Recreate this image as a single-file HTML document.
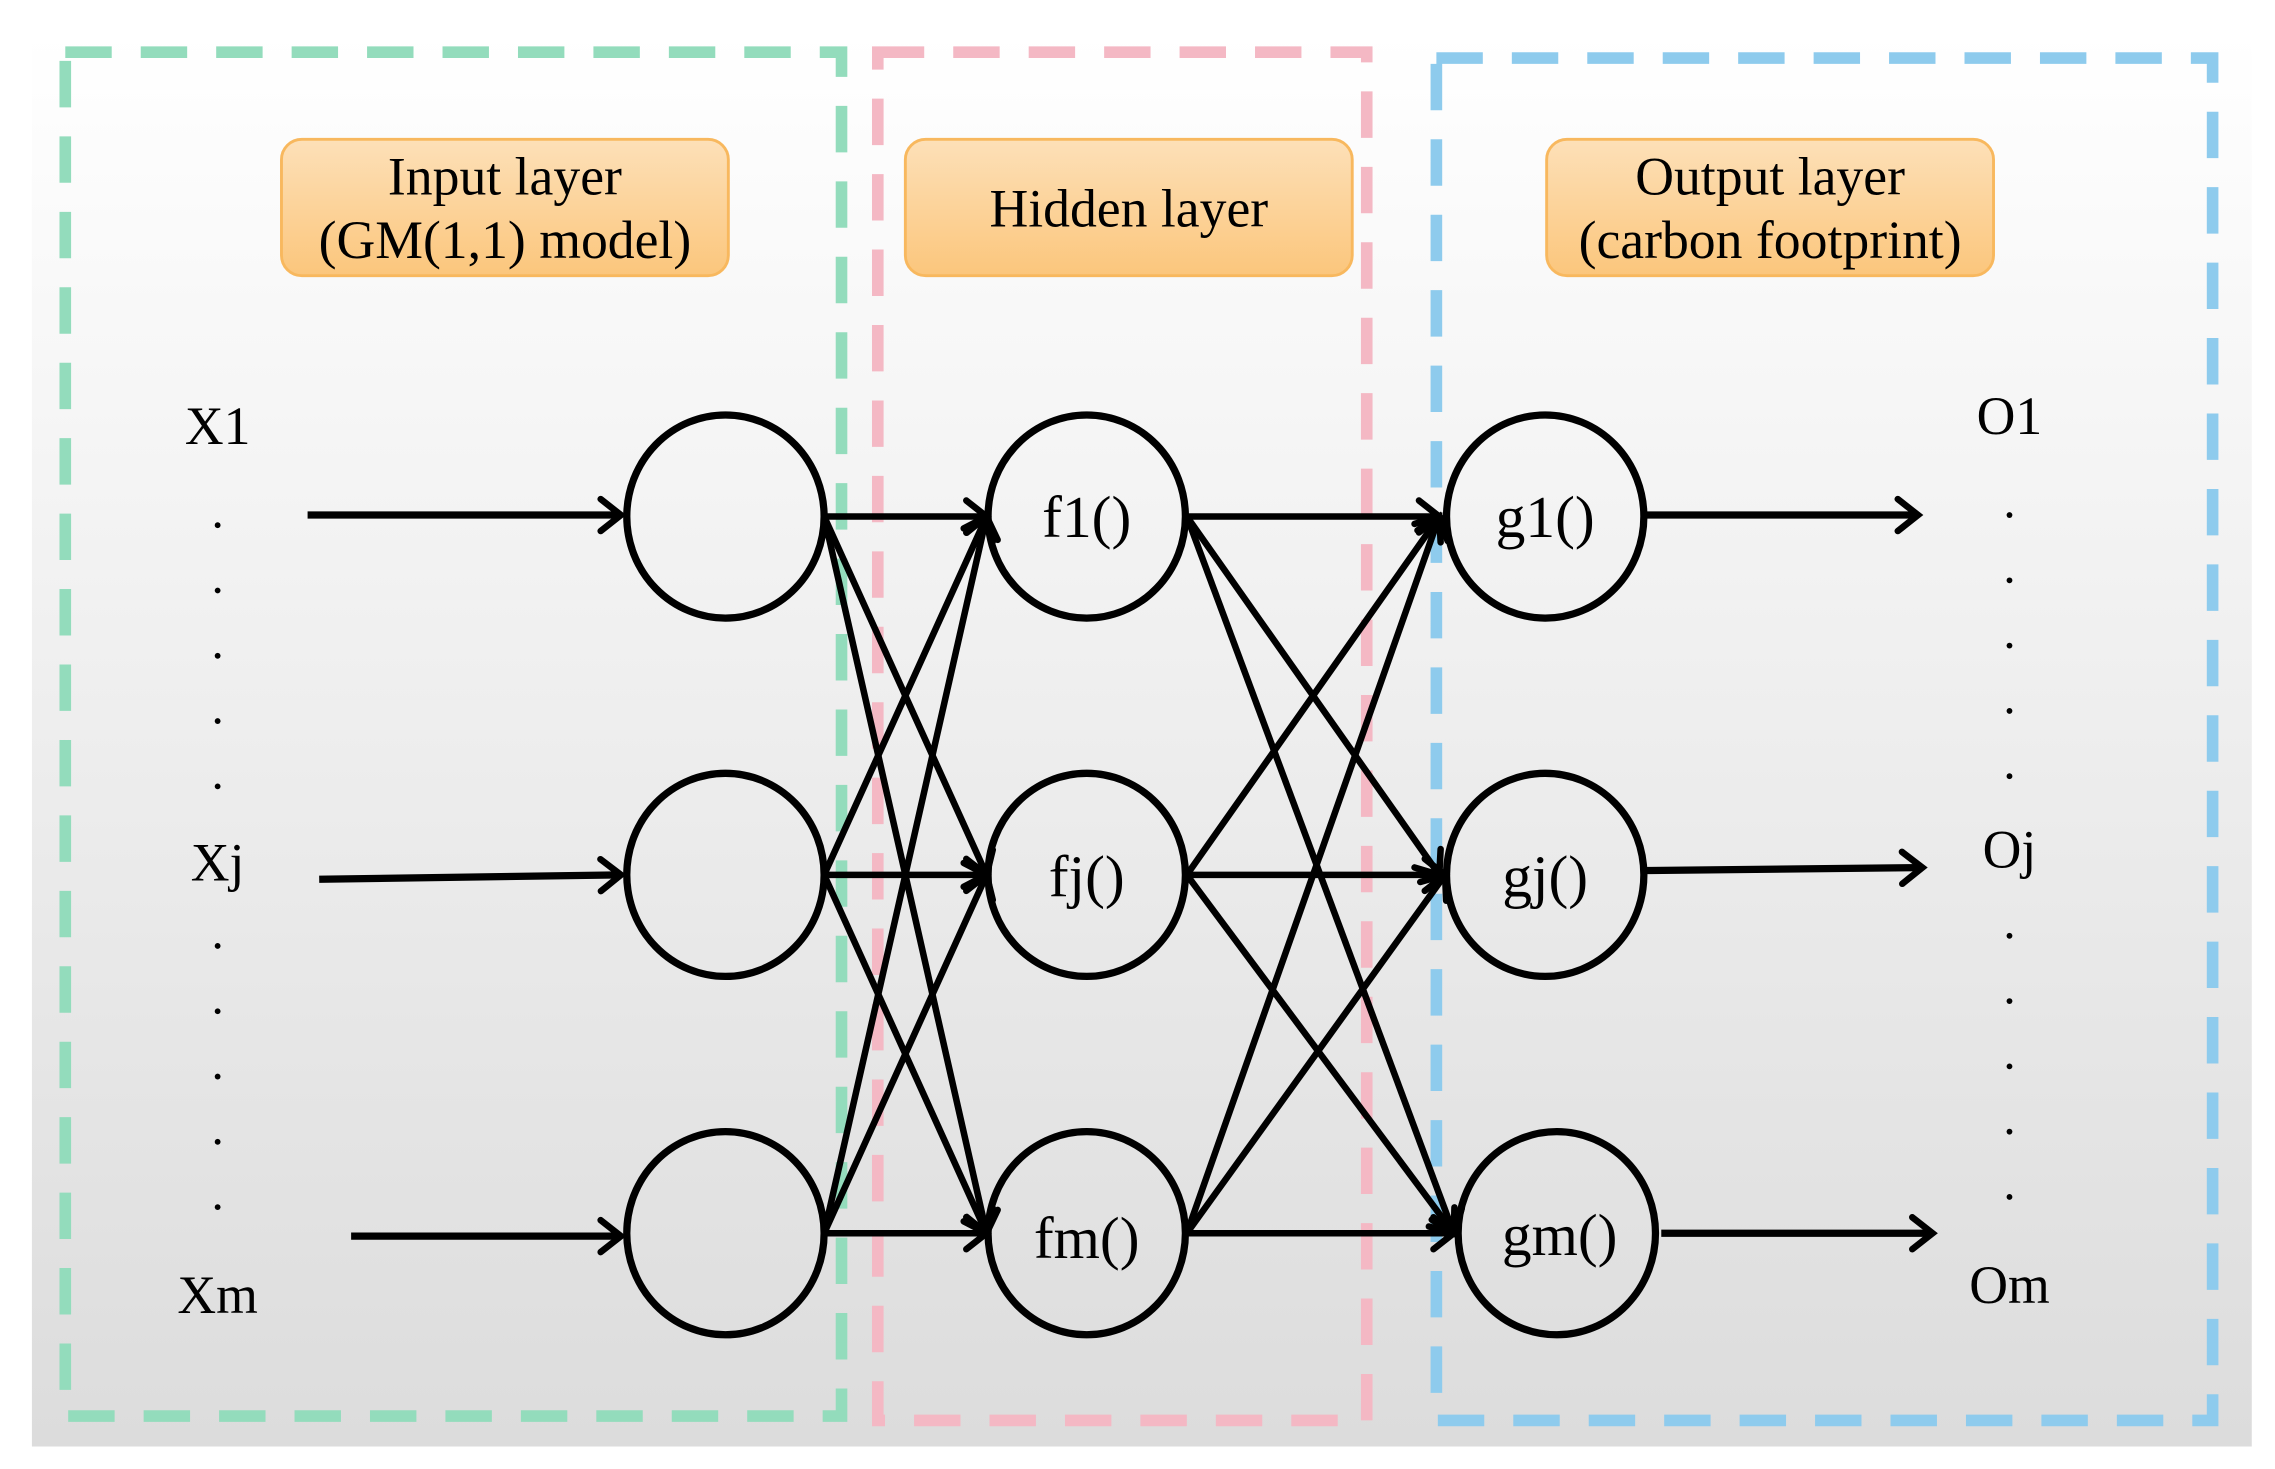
<!DOCTYPE html>
<html><head><meta charset="utf-8"><style>
html,body{margin:0;padding:0;background:#fff;}
svg{display:block;}
text{font-family:"Liberation Serif",serif;fill:#000;}
</style></head><body>
<svg width="2275" height="1469" viewBox="0 0 1568 1012.5" preserveAspectRatio="none" xmlns="http://www.w3.org/2000/svg">
<defs>
<linearGradient id="bg" x1="0" y1="0" x2="0" y2="1"><stop offset="0" stop-color="#ffffff"/><stop offset="1" stop-color="#dcdcdc"/></linearGradient>
<linearGradient id="or" x1="0" y1="0" x2="0" y2="1"><stop offset="0" stop-color="#fde0b8"/><stop offset="1" stop-color="#fbc67c"/></linearGradient>
<marker id="ah2" markerWidth="30" markerHeight="30" refX="24" refY="15" orient="auto" markerUnits="userSpaceOnUse">
<polyline points="10,4 24,15 10,26" fill="none" stroke="#000" stroke-width="4.5" stroke-linecap="round"/></marker>
</defs>
<rect x="22" y="22" width="1530" height="975" fill="url(#bg)"/>
<g fill="none" stroke-width="8" stroke-dasharray="32,20">
<rect x="45" y="36" width="535" height="940" stroke="#93dcbc"/>
<rect x="605" y="36" width="337" height="943" stroke="#f4b8c4"/>
<rect x="990" y="40" width="535" height="939" stroke="#8ecbed"/>
</g>
<g fill="url(#or)" stroke="#f8b85e" stroke-width="2">
<rect x="194" y="96" width="308" height="94" rx="14"/>
<rect x="624" y="96" width="308" height="94" rx="14"/>
<rect x="1066" y="96" width="308" height="94" rx="14"/>
</g>
<g font-size="37" text-anchor="middle">
<text x="348" y="134">Input layer</text>
<text x="348" y="178">(GM(1,1) model)</text>
<text x="778" y="156">Hidden layer</text>
<text x="1220" y="134">Output layer</text>
<text x="1220" y="178">(carbon footprint)</text>
<text x="150" y="306">X1</text>
<text x="150" y="607">Xj</text>
<text x="150" y="905">Xm</text>
<text x="1385" y="299">O1</text>
<text x="1385" y="598">Oj</text>
<text x="1385" y="898">Om</text>
</g>
<g fill="#000">
<circle cx="150" cy="362" r="2"/><circle cx="150" cy="407" r="2"/><circle cx="150" cy="452" r="2"/><circle cx="150" cy="497" r="2"/><circle cx="150" cy="542" r="2"/>
<circle cx="150" cy="652" r="2"/><circle cx="150" cy="697" r="2"/><circle cx="150" cy="742" r="2"/><circle cx="150" cy="787" r="2"/><circle cx="150" cy="832" r="2"/>
<circle cx="1385" cy="355" r="2"/><circle cx="1385" cy="400" r="2"/><circle cx="1385" cy="445" r="2"/><circle cx="1385" cy="490" r="2"/><circle cx="1385" cy="535" r="2"/>
<circle cx="1385" cy="645" r="2"/><circle cx="1385" cy="690" r="2"/><circle cx="1385" cy="735" r="2"/><circle cx="1385" cy="780" r="2"/><circle cx="1385" cy="825" r="2"/>
</g>
<g stroke="#000" stroke-width="5" fill="none" marker-end="url(#ah2)">
<line x1="212" y1="355" x2="428" y2="355"/>
<line x1="220" y1="606" x2="428" y2="603"/>
<line x1="242" y1="852" x2="428" y2="852"/>
<line x1="1135" y1="355" x2="1322" y2="355"/>
<line x1="1135" y1="600" x2="1325" y2="598"/>
<line x1="1145" y1="850" x2="1332" y2="850"/>
</g>
<g stroke="#000" stroke-width="4.5" fill="none" marker-end="url(#ah2)">
<line x1="568" y1="356" x2="680" y2="356"/>
<line x1="568" y1="356" x2="680" y2="603"/>
<line x1="568" y1="356" x2="680" y2="850"/>
<line x1="568" y1="603" x2="680" y2="356"/>
<line x1="568" y1="603" x2="680" y2="603"/>
<line x1="568" y1="603" x2="680" y2="850"/>
<line x1="568" y1="850" x2="680" y2="356"/>
<line x1="568" y1="850" x2="680" y2="603"/>
<line x1="568" y1="850" x2="680" y2="850"/>
<line x1="818" y1="356" x2="992" y2="356"/>
<line x1="818" y1="356" x2="992" y2="603"/>
<line x1="818" y1="356" x2="1002" y2="850"/>
<line x1="818" y1="603" x2="992" y2="356"/>
<line x1="818" y1="603" x2="996" y2="603"/>
<line x1="818" y1="603" x2="1002" y2="850"/>
<line x1="818" y1="850" x2="992" y2="356"/>
<line x1="818" y1="850" x2="996" y2="603"/>
<line x1="818" y1="850" x2="1002" y2="850"/>
</g>
<g fill="none" stroke="#000" stroke-width="5">
<ellipse cx="500" cy="356" rx="68" ry="70"/>
<ellipse cx="500" cy="603" rx="68" ry="70"/>
<ellipse cx="500" cy="850" rx="68" ry="70"/>
<ellipse cx="749" cy="356" rx="68" ry="70"/>
<ellipse cx="749" cy="603" rx="68" ry="70"/>
<ellipse cx="749" cy="850" rx="68" ry="70"/>
<ellipse cx="1065" cy="356" rx="68" ry="70"/>
<ellipse cx="1065" cy="603" rx="68" ry="70"/>
<ellipse cx="1073" cy="850" rx="68" ry="70"/>
</g>
<g font-size="41" text-anchor="middle">
<text x="749" y="370">f1()</text>
<text x="749" y="618">fj()</text>
<text x="749" y="867">fm()</text>
<text x="1065" y="370">g1()</text>
<text x="1065" y="618">gj()</text>
<text x="1075" y="865">gm()</text>
</g>
</svg>
</body></html>
